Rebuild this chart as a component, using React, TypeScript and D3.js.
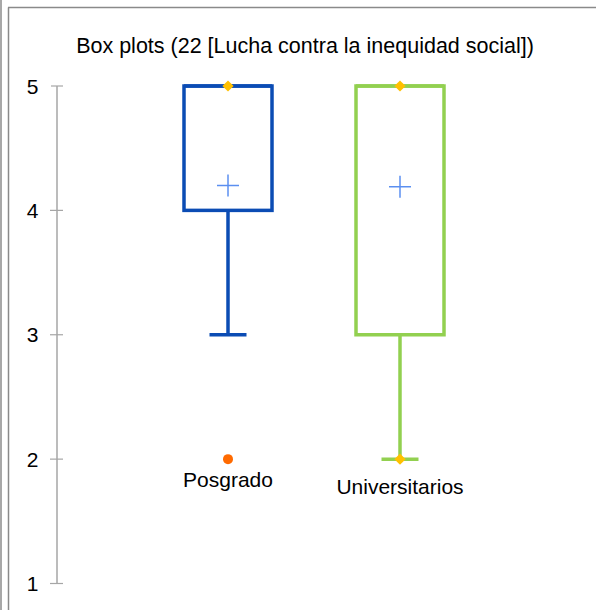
import React from "react";
import * as d3 from "d3";

const title = "Box plots (22 [Lucha contra la inequidad social])";
const categories = ["Posgrado", "Universitarios"];
const q1 = [4, 3];
const q3 = [5, 5];
const medians = [5, 5];
const means = [4.2, 4.19];
const whiskerLow = [3, 2];
const whiskerHigh = [5, 5];
const minima = [2, 2];
const maxima = [5, 5];
const outliers = [[2], []];
const yTicks = [1, 2, 3, 4, 5];
const colors = ["#0b4cb4", "#92d050"];

const W = 596;
const H = 610;

export default function App() {
  const y = d3.scaleLinear().domain([1, 5]).range([583.5, 86]);
  const x = d3.scalePoint<string>().domain(categories).range([228, 400]);
  const boxW = 88;
  const capW = 37;
  const labelOffsets = [28, 35];
  const diamond = d3.symbol().type(d3.symbolDiamond2).size(80)();
  const font = "Arial, 'Liberation Sans', Helvetica, sans-serif";
  return (
    <svg
      width={W}
      height={H}
      style={{ position: "absolute", left: 0, top: 0, background: "#fff" }}
      fontFamily={font}
    >
      <rect x={0} y={0} width={2} height={H} fill="#a8a8a8" />
      <line x1={8.5} y1={7.5} x2={8.5} y2={H} stroke="#8a8a8a" strokeWidth={1.5} />
      <line x1={8} y1={7.5} x2={W} y2={7.5} stroke="#8a8a8a" strokeWidth={1.5} />
      <text x={305} y={53} textAnchor="middle" fontSize={21.5} fill="#000">
        {title}
      </text>
      <line x1={57} x2={57} y1={y(5)} y2={y(1)} stroke="#a6a6a6" strokeWidth={1.5} />
      {yTicks.map((t) => (
        <g key={t}>
          <line x1={t === 5 ? 51 : 50} x2={63} y1={y(t)} y2={y(t)} stroke="#a6a6a6" strokeWidth={1.2} />
          <text x={38.5} y={y(t) + 7.5} textAnchor="end" fontSize={21} fill="#000">
            {t}
          </text>
        </g>
      ))}
      {categories.map((c, i) => {
        const cx = x(c)!;
        const col = colors[i];
        const minIsOutlier = outliers[i].includes(minima[i]);
        return (
          <g key={c}>
            <line x1={cx} x2={cx} y1={y(q1[i])} y2={y(whiskerLow[i])} stroke={col} strokeWidth={3.5} />
            <line x1={cx} x2={cx} y1={y(q3[i])} y2={y(whiskerHigh[i])} stroke={col} strokeWidth={3.5} />
            <line x1={cx - capW / 2} x2={cx + capW / 2} y1={y(whiskerLow[i])} y2={y(whiskerLow[i])} stroke={col} strokeWidth={3.5} />
            <rect
              x={cx - boxW / 2}
              y={y(q3[i])}
              width={boxW}
              height={y(q1[i]) - y(q3[i])}
              fill="none"
              stroke={col}
              strokeWidth={3.5}
            />
            <line x1={cx - boxW / 2} x2={cx + boxW / 2} y1={y(medians[i])} y2={y(medians[i])} stroke={col} strokeWidth={3.5} />
            <g stroke="#5b8ff0" strokeWidth={1.5}>
              <line x1={cx - 11} x2={cx + 11} y1={y(means[i])} y2={y(means[i])} />
              <line x1={cx} x2={cx} y1={y(means[i]) - 11} y2={y(means[i]) + 11} />
            </g>
            <path d={diamond} transform={`translate(${cx},${y(maxima[i])})`} fill="#ffc000" />
            {!minIsOutlier && (
              <path d={diamond} transform={`translate(${cx},${y(minima[i])})`} fill="#ffc000" />
            )}
            {outliers[i].map((o, k) => (
              <circle key={k} cx={cx} cy={y(o)} r={5} fill="#ff6a00" />
            ))}
            <text x={cx} y={y(d3.min([whiskerLow[i], ...outliers[i]])!) + labelOffsets[i]} textAnchor="middle" fontSize={21} fill="#000">
              {c}
            </text>
          </g>
        );
      })}
    </svg>
  );
}
